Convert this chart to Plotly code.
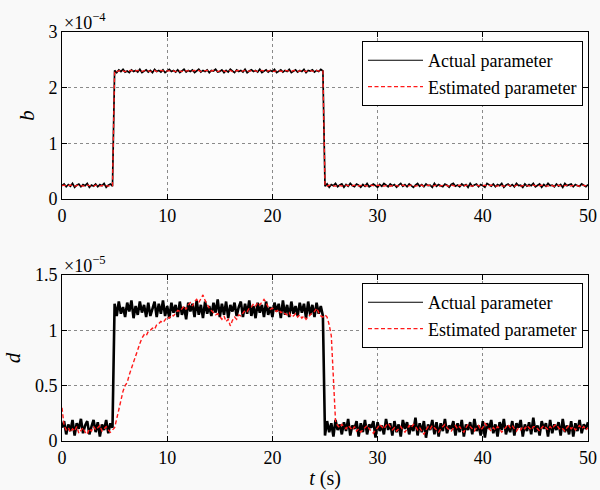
import plotly.graph_objects as go
from plotly.subplots import make_subplots

# ---------------- data ----------------
# time samples (s), every 0.2 s from 0 to 50 s
t = [round(0.2 * i, 2) for i in range(251)]

# b parameter (units of 1e-4)
b_actual = [0.24, 0.27, 0.22, 0.26, 0.23, 0.28, 0.21, 0.25, 0.27, 0.22,
            0.26, 0.24, 0.28, 0.21, 0.25, 0.23, 0.27, 0.22, 0.26, 0.24,
            0.28, 0.21, 0.25, 0.27, 0.23,
            2.31, 2.27, 2.32, 2.29, 2.33, 2.28, 2.30, 2.27, 2.32, 2.29,
            2.31, 2.28, 2.33, 2.27, 2.30, 2.32, 2.28, 2.31, 2.27, 2.33,
            2.29, 2.31, 2.28, 2.32, 2.27, 2.30, 2.33, 2.29, 2.31, 2.28,
            2.32, 2.27, 2.30, 2.33, 2.28, 2.31, 2.29, 2.32, 2.27, 2.30,
            2.33, 2.28, 2.31, 2.29, 2.32, 2.27, 2.31, 2.30, 2.33, 2.28,
            2.29, 2.32, 2.27, 2.31, 2.28, 2.33, 2.30, 2.27, 2.32, 2.29,
            2.31, 2.28, 2.33, 2.27, 2.30, 2.32, 2.29, 2.31, 2.28, 2.33,
            2.27, 2.30, 2.32, 2.28, 2.31, 2.29, 2.33, 2.27, 2.30, 2.32,
            2.28, 2.31, 2.29, 2.33, 2.27, 2.30, 2.32, 2.28, 2.31, 2.29,
            2.33, 2.27, 2.31, 2.30, 2.32, 2.28, 2.31, 2.29, 2.33, 2.30,
            0.23, 0.27, 0.21, 0.26, 0.24, 0.28, 0.22, 0.25, 0.27, 0.21,
            0.26, 0.23, 0.28, 0.24, 0.22, 0.27, 0.25, 0.21, 0.26, 0.23,
            0.28, 0.22, 0.25, 0.27, 0.24, 0.21, 0.26, 0.23, 0.28, 0.25,
            0.22, 0.27, 0.24, 0.26, 0.21, 0.25, 0.28, 0.23, 0.26, 0.22,
            0.27, 0.24, 0.21, 0.25, 0.28, 0.23, 0.26, 0.22, 0.27, 0.24,
            0.25, 0.21, 0.28, 0.23, 0.26, 0.24, 0.22, 0.27, 0.25, 0.21,
            0.26, 0.28, 0.23, 0.25, 0.22, 0.27, 0.24, 0.26, 0.21, 0.28,
            0.23, 0.25, 0.27, 0.22, 0.26, 0.24, 0.21, 0.28, 0.25, 0.23,
            0.27, 0.22, 0.26, 0.24, 0.28, 0.21, 0.25, 0.27, 0.23, 0.26,
            0.22, 0.28, 0.24, 0.25, 0.21, 0.27, 0.23, 0.26, 0.24, 0.28,
            0.22, 0.25, 0.27, 0.21, 0.26, 0.23, 0.28, 0.24, 0.25, 0.22,
            0.27, 0.23, 0.26, 0.21, 0.28, 0.24, 0.25, 0.27, 0.22, 0.26,
            0.24, 0.23, 0.27, 0.25, 0.22, 0.26]
b_est = [0.24, 0.25, 0.23, 0.24, 0.25, 0.24, 0.23, 0.24, 0.25, 0.24,
         0.23, 0.24, 0.25, 0.24, 0.24, 0.23, 0.25, 0.24, 0.23, 0.24,
         0.25, 0.24, 0.23, 0.24, 0.24,
         2.30, 2.29, 2.30, 2.31, 2.30, 2.29, 2.30, 2.30, 2.31, 2.29,
         2.30, 2.31, 2.29, 2.30, 2.30, 2.31, 2.30, 2.29, 2.30, 2.31,
         2.29, 2.30, 2.31, 2.30, 2.29, 2.30, 2.30, 2.31, 2.30, 2.29,
         2.30, 2.30, 2.29, 2.31, 2.30, 2.30, 2.29, 2.30, 2.31, 2.30,
         2.31, 2.29, 2.30, 2.30, 2.31, 2.29, 2.30, 2.31, 2.30, 2.29,
         2.30, 2.31, 2.30, 2.29, 2.30, 2.31, 2.29, 2.30, 2.30, 2.31,
         2.29, 2.30, 2.31, 2.29, 2.30, 2.30, 2.31, 2.30, 2.29, 2.30,
         2.31, 2.30, 2.29, 2.30, 2.31, 2.30, 2.29, 2.31, 2.30, 2.30,
         2.29, 2.31, 2.30, 2.30, 2.29, 2.31, 2.30, 2.29, 2.30, 2.31,
         2.30, 2.29, 2.31, 2.30, 2.30, 2.29, 2.31, 2.30, 2.29, 2.30,
         0.24, 0.23, 0.25, 0.24, 0.24, 0.23, 0.25, 0.24, 0.23, 0.24,
         0.25, 0.24, 0.23, 0.24, 0.25, 0.23, 0.24, 0.24, 0.25, 0.24,
         0.23, 0.24, 0.25, 0.24, 0.23, 0.25, 0.24, 0.24, 0.23, 0.24,
         0.25, 0.23, 0.24, 0.25, 0.24, 0.23, 0.24, 0.25, 0.24, 0.23,
         0.24, 0.25, 0.24, 0.23, 0.24, 0.24, 0.25, 0.23, 0.24, 0.25,
         0.24, 0.23, 0.24, 0.25, 0.23, 0.24, 0.24, 0.25, 0.24, 0.23,
         0.25, 0.24, 0.23, 0.24, 0.25, 0.24, 0.23, 0.25, 0.24, 0.24,
         0.23, 0.24, 0.25, 0.24, 0.23, 0.24, 0.25, 0.23, 0.24, 0.25,
         0.24, 0.24, 0.23, 0.25, 0.24, 0.23, 0.24, 0.25, 0.24, 0.24,
         0.23, 0.25, 0.24, 0.23, 0.24, 0.25, 0.24, 0.24, 0.23, 0.25,
         0.24, 0.23, 0.24, 0.25, 0.24, 0.24, 0.23, 0.25, 0.24, 0.23,
         0.25, 0.24, 0.24, 0.23, 0.24, 0.25, 0.23, 0.24, 0.24, 0.25,
         0.24, 0.23, 0.25, 0.24, 0.24, 0.23]

# d parameter (units of 1e-5)
d_actual = [0.12, 0.18, 0.06, 0.15, 0.09, 0.19, 0.05, 0.16, 0.11, 0.20,
            0.07, 0.14, 0.18, 0.06, 0.13, 0.19, 0.08, 0.17, 0.04, 0.15,
            0.10, 0.19, 0.07, 0.16, 0.12,
            1.24, 1.13, 1.26, 1.15, 1.21, 1.12, 1.25, 1.17, 1.27, 1.11,
            1.22, 1.14, 1.26, 1.16, 1.23, 1.12, 1.25, 1.13, 1.20, 1.26,
            1.12, 1.24, 1.15, 1.27, 1.13, 1.22, 1.11, 1.25, 1.16, 1.23,
            1.12, 1.26, 1.14, 1.21, 1.10, 1.25, 1.17, 1.24, 1.12, 1.27,
            1.14, 1.23, 1.11, 1.26, 1.15, 1.22, 1.13, 1.25, 1.16, 1.28,
            1.12, 1.24, 1.14, 1.26, 1.11, 1.23, 1.17, 1.25, 1.13, 1.21,
            1.26, 1.12, 1.24, 1.15, 1.27, 1.13, 1.22, 1.11, 1.25, 1.16,
            1.23, 1.12, 1.26, 1.14, 1.21, 1.12, 1.25, 1.17, 1.24, 1.11,
            1.27, 1.14, 1.23, 1.12, 1.26, 1.15, 1.22, 1.13, 1.25, 1.16,
            1.24, 1.11, 1.26, 1.14, 1.23, 1.12, 1.25, 1.15, 1.22, 1.13,
            0.05, 0.18, 0.08, 0.16, 0.04, 0.19, 0.10, 0.15, 0.06, 0.17,
            0.09, 0.20, 0.05, 0.14, 0.11, 0.18, 0.04, 0.16, 0.08, 0.19,
            0.06, 0.15, 0.12, 0.18, 0.03, 0.17, 0.09, 0.14, 0.06, 0.20,
            0.10, 0.16, 0.05, 0.18, 0.08, 0.15, 0.04, 0.19, 0.11, 0.17,
            0.06, 0.14, 0.09, 0.21, 0.05, 0.16, 0.08, 0.18, 0.03, 0.15,
            0.10, 0.19, 0.06, 0.17, 0.04, 0.16, 0.09, 0.20, 0.07, 0.14,
            0.11, 0.18, 0.05, 0.16, 0.08, 0.19, 0.04, 0.15, 0.10, 0.17,
            0.06, 0.20, 0.09, 0.14, 0.05, 0.18, 0.03, 0.16, 0.11, 0.19,
            0.07, 0.15, 0.04, 0.17, 0.10, 0.20, 0.06, 0.14, 0.08, 0.18,
            0.05, 0.16, 0.12, 0.19, 0.04, 0.15, 0.09, 0.17, 0.06, 0.21,
            0.08, 0.14, 0.05, 0.18, 0.11, 0.16, 0.04, 0.19, 0.07, 0.15,
            0.10, 0.17, 0.05, 0.20, 0.08, 0.14, 0.06, 0.18, 0.04, 0.16,
            0.09, 0.19, 0.07, 0.15, 0.11, 0.17]
d_est = [0.30, 0.14, 0.10, 0.12, 0.08, 0.11, 0.09, 0.13, 0.07, 0.10,
         0.12, 0.08, 0.06, 0.11, 0.09, 0.13, 0.10, 0.12, 0.14, 0.09,
         0.11, 0.13, 0.10, 0.08, 0.10,
         0.12, 0.20, 0.28, 0.35, 0.45, 0.50, 0.53, 0.60, 0.66, 0.70,
         0.76, 0.82, 0.88, 0.93, 0.96, 0.95, 0.99, 1.00, 1.02, 1.01,
         1.05, 1.06, 1.08, 1.07, 1.10, 1.12, 1.11, 1.14, 1.13, 1.16,
         1.18, 1.17, 1.20, 1.22, 1.19, 1.23, 1.25, 1.22, 1.26, 1.28,
         1.25, 1.29, 1.32, 1.27, 1.23, 1.20, 1.18, 1.16, 1.14, 1.15,
         1.12, 1.10, 1.13, 1.08, 1.10, 1.04, 1.09, 1.12, 1.10, 1.14,
         1.13, 1.16, 1.18, 1.17, 1.20, 1.21, 1.24, 1.22, 1.25, 1.23,
         1.26, 1.28, 1.25, 1.21, 1.19, 1.20, 1.18, 1.17, 1.19, 1.16,
         1.17, 1.15, 1.14, 1.16, 1.12, 1.13, 1.15, 1.12, 1.14, 1.11,
         1.13, 1.10, 1.12, 1.14, 1.16, 1.17, 1.20, 1.16, 1.13, 1.12,
         1.14, 1.12, 1.05, 0.95, 0.50, 0.18, 0.14, 0.12, 0.15, 0.13,
         0.11, 0.14, 0.12, 0.10, 0.13, 0.09, 0.11, 0.08, 0.10, 0.12,
         0.14, 0.11, 0.09, 0.07, 0.10, 0.12, 0.15, 0.13, 0.11, 0.14,
         0.16, 0.13, 0.10, 0.12, 0.09, 0.11, 0.13, 0.10, 0.08, 0.11,
         0.14, 0.12, 0.15, 0.13, 0.10, 0.12, 0.09, 0.06, 0.10, 0.13,
         0.11, 0.14, 0.12, 0.10, 0.08, 0.11, 0.13, 0.15, 0.12, 0.10,
         0.09, 0.12, 0.14, 0.11, 0.13, 0.10, 0.08, 0.12, 0.15, 0.13,
         0.11, 0.09, 0.12, 0.14, 0.10, 0.12, 0.16, 0.13, 0.11, 0.09,
         0.12, 0.10, 0.13, 0.11, 0.08, 0.10, 0.13, 0.15, 0.12, 0.14,
         0.11, 0.09, 0.12, 0.10, 0.13, 0.11, 0.14, 0.12, 0.10, 0.13,
         0.13, 0.11, 0.09, 0.12, 0.14, 0.12, 0.10, 0.13, 0.11, 0.14,
         0.15, 0.12, 0.10, 0.11, 0.09, 0.12, 0.14, 0.11, 0.13, 0.10,
         0.12, 0.14, 0.11, 0.13, 0.10, 0.12]

lengths = [len(a) for a in (b_actual, b_est, d_actual, d_est)]
assert all(n == len(t) for n in lengths), lengths

x_ticks = [0, 10, 20, 30, 40, 50]
b_ticks = [0, 1, 2, 3]
d_ticks = [0, 0.5, 1, 1.5]
d_tick_labels = ["0", "0.5", "1", "1.5"]
legend_names = ["Actual parameter", "Estimated parameter"]

# ---------------- figure ----------------
FONT = "Liberation Serif"
W, H = 600, 490
ml, mr, mt, mb = 62, 12, 32, 49
ph = H - mt - mb

top_dom = [(441 - 199) / ph, 1.0]
bot_dom = [0.0, (441 - 275) / ph]

fig = make_subplots(rows=2, cols=1)

RED = "#ff1a1a"
DASH = "4px,2.5px"

# data traces
fig.add_trace(go.Scatter(x=t, y=b_actual, mode="lines", showlegend=False,
                         line=dict(color="black", width=1.7)), row=1, col=1)
fig.add_trace(go.Scatter(x=t, y=b_est, mode="lines", showlegend=False,
                         line=dict(color=RED, width=1.3, dash=DASH)), row=1, col=1)
fig.add_trace(go.Scatter(x=t, y=d_actual, mode="lines", showlegend=False,
                         line=dict(color="black", width=2.6)), row=2, col=1)
fig.add_trace(go.Scatter(x=t, y=d_est, mode="lines", showlegend=False,
                         line=dict(color=RED, width=1.4, dash=DASH)), row=2, col=1)

# legend entries (thin line samples, no data)
for row, leg in ((1, "legend"), (2, "legend2")):
    fig.add_trace(go.Scatter(x=[None], y=[None], mode="lines", name=legend_names[0],
                             line=dict(color="black", width=1.1), legend=leg), row=row, col=1)
    fig.add_trace(go.Scatter(x=[None], y=[None], mode="lines", name=legend_names[1],
                             line=dict(color=RED, width=1.2, dash=DASH), legend=leg), row=row, col=1)

axis_common = dict(showline=True, linecolor="black", linewidth=1, mirror="ticks",
                   ticks="inside", ticklen=5, tickcolor="black", automargin=False,
                   showgrid=True, gridcolor="#8a8a8a", gridwidth=1, griddash="dot",
                   zeroline=False, tickfont=dict(family=FONT, size=18, color="black"))

fig.update_xaxes(range=[0, 50], tickvals=x_ticks, **axis_common)
fig.update_yaxes(**axis_common)
fig.update_layout(
    xaxis=dict(domain=[0, 1]),
    xaxis2=dict(domain=[0, 1],
                title=dict(text="<i>t</i> (s)", font=dict(family=FONT, size=20, color="black"),
                           standoff=4)),
    yaxis=dict(domain=top_dom, range=[0, 3], tickvals=b_ticks,
               title=dict(text="<i>b</i>", font=dict(family=FONT, size=21, color="black"),
                          standoff=8)),
    yaxis2=dict(domain=bot_dom, range=[0, 1.5], tickvals=d_ticks, ticktext=d_tick_labels,
                title=dict(text="<i>d</i>", font=dict(family=FONT, size=21, color="black"),
                           standoff=8)),
)

legend_style = dict(bgcolor="white", bordercolor="black", borderwidth=1,
                    font=dict(family=FONT, size=18, color="black"),
                    xanchor="right", yanchor="top", x=(583 - ml) / (W - ml - mr),
                    tracegroupgap=0, itemwidth=55)
fig.update_layout(
    legend=dict(y=(441 - 41) / ph, **legend_style),
    legend2=dict(y=(441 - 283) / ph, **legend_style),
)

fig.add_annotation(text="×10<sup>−4</sup>", xref="paper", yref="paper",
                   x=0, y=1.0, xanchor="left", yanchor="bottom", showarrow=False,
                   font=dict(family=FONT, size=18, color="black"), yshift=-3)
fig.add_annotation(text="×10<sup>−5</sup>", xref="paper", yref="paper",
                   x=0, y=bot_dom[1], xanchor="left", yanchor="bottom", showarrow=False,
                   font=dict(family=FONT, size=18, color="black"), yshift=-3)

fig.update_layout(width=W, height=H, margin=dict(l=ml, r=mr, t=mt, b=mb),
                  paper_bgcolor="#f9f9f9", plot_bgcolor="#fcfcfc",
                  showlegend=True)

fig.write_html("out.html", config={"displayModeBar": False},
               post_script="document.body.style.margin='0';document.body.style.background='#f9f9f9';")
